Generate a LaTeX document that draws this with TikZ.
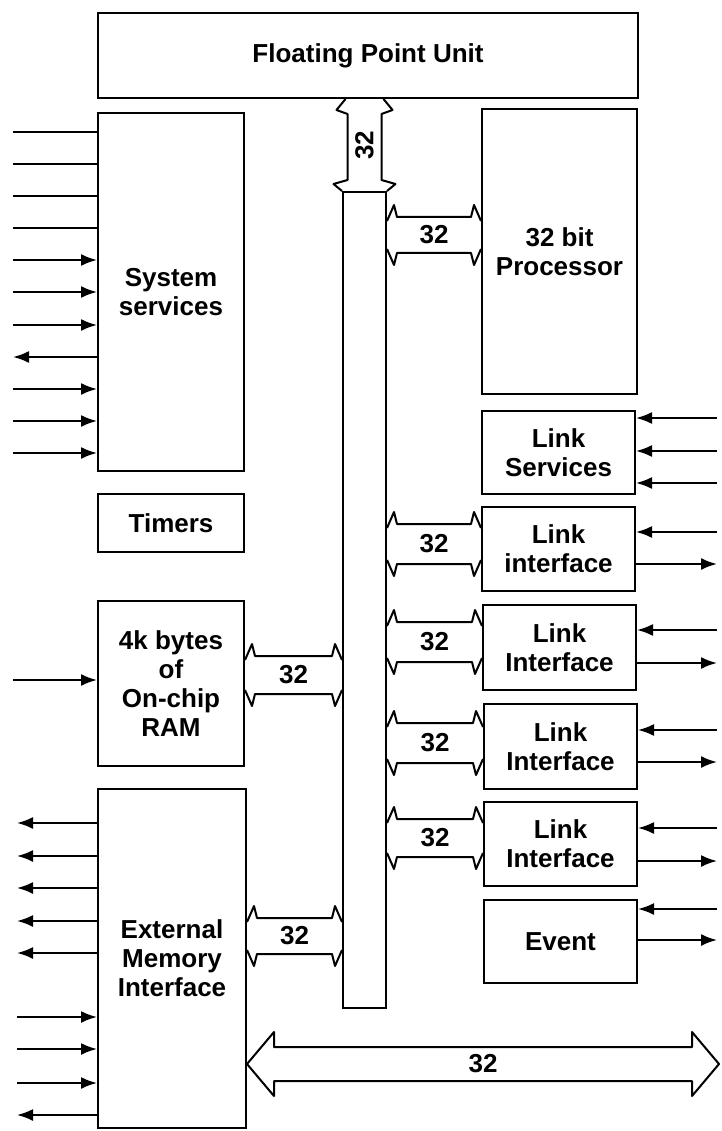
\documentclass[tikz,border=0pt]{standalone}
\usepackage{fontspec}
\setmainfont{Liberation Sans}
\usetikzlibrary{calc,arrows.meta}
\tikzset{
  box/.style={draw, line width=2pt, rectangle, inner sep=0pt, anchor=north west,
              align=center, font=\fontsize{26}{29}\selectfont\bfseries},
  busline/.style={line width=2pt, line join=round},
  sig/.style={line width=2pt},
  styn/.style={},
  styi/.style={-{Latex[length=16pt,width=12pt]}},
  styo/.style={{Latex[length=16pt,width=12pt]}-},
  lbl/.style={font=\fontsize{26}{29}\selectfont\bfseries, inner sep=0pt},
}
\newcommand\fatlink[4]{%
  \coordinate (fl-a) at (#1.east |- 0,#3);
  \coordinate (fl-b) at (#2.west |- 0,#3);
  \draw[busline] ($(fl-a)+(0,-#4+4)$) -- ($(fl-a)+(7,-#4-12)$) -- ($(fl-a)+(10,-#4)$)
     -- ($(fl-b)+(-10,-#4)$) -- ($(fl-b)+(-7,-#4-12)$) -- ($(fl-b)+(0,-#4+4)$);
  \draw[busline] ($(fl-a)+(0,#4-4)$) -- ($(fl-a)+(7,#4+12)$) -- ($(fl-a)+(10,#4)$)
     -- ($(fl-b)+(-10,#4)$) -- ($(fl-b)+(-7,#4+12)$) -- ($(fl-b)+(0,#4-4)$);
  \node[lbl] (lab-#1-#2) at ($(fl-a)!0.5!(fl-b)$) {32};
}
\begin{document}
\begin{tikzpicture}[x=1pt,y=-1pt]
\useasboundingbox (0,0) rectangle (721,1131);

% boxes
\node[box, minimum width=540pt, minimum height=85pt] (fpu) at (97,12) {Floating Point Unit};
\node[box, minimum width=146pt, minimum height=358pt] (sys) at (97,112) {System\\services};
\node[box, minimum width=146pt, minimum height=58pt] (tim) at (97,493) {Timers};
\node[box, minimum width=146pt, minimum height=165pt] (ram) at (97,600) {4k bytes\\of\\On-chip\\RAM};
\node[box, minimum width=148pt, minimum height=339pt] (emi) at (97,788) {External\\Memory\\Interface};
\node[box, minimum width=43pt, minimum height=816pt] (bus) at (342,191) {};
\node[box, minimum width=155pt, minimum height=285pt] (proc) at (481,108) {32 bit\\Processor};
\node[box, minimum width=153pt, minimum height=83pt] (lsv) at (481,410) {Link\\Services};
\node[box, minimum width=153pt, minimum height=84pt] (li1) at (481,506) {Link\\interface};
\node[box, minimum width=153pt, minimum height=85pt] (li2) at (482,604) {Link\\Interface};
\node[box, minimum width=153pt, minimum height=85pt] (li3) at (483,703) {Link\\Interface};
\node[box, minimum width=153pt, minimum height=84pt] (li4) at (483,801) {Link\\Interface};
\node[box, minimum width=153pt, minimum height=83pt] (evt) at (483,899) {Event};

% FPU to bus vertical connector
\coordinate (ft) at (bus.north |- fpu.south);
\draw[busline] (ft) ++(-19,0) -- ($(ft)+(-28,11)$) -- ($(ft)+(-17,15)$) -- ($(ft)+(-17,81)$)
   -- ($(ft)+(-31,85)$) -- (bus.north west);
\draw[busline] (ft) ++(19,0) -- ($(ft)+(28,11)$) -- ($(ft)+(17,15)$) -- ($(ft)+(17,81)$)
   -- ($(ft)+(31,85)$) -- (bus.north east);
\node[lbl, rotate=90] (labfpu) at ($(ft)+(0,46)$) {32};

% horizontal bus connectors
\fatlink{bus}{proc}{235}{18}
\fatlink{bus}{li1}{544}{20}
\fatlink{bus}{li2}{642}{20}
\fatlink{bus}{li3}{743}{20}
\fatlink{bus}{li4}{838}{19}
\fatlink{ram}{bus}{675}{19}
\fatlink{emi}{bus}{936}{18}

% external bus
\coordinate (bl) at (emi.east |- 0,1064);
\coordinate (br) at (719,1064);
\draw[busline] (bl) -- ($(bl)+(27,-32)$) -- ($(bl)+(27,-17)$) -- ($(br)+(-27,-17)$)
  -- ($(br)+(-27,-32)$) -- (br) -- ($(br)+(-27,32)$) -- ($(br)+(-27,17)$)
  -- ($(bl)+(27,17)$) -- ($(bl)+(27,32)$) -- cycle;
\node[lbl] (labext) at ($(bl)!0.5!(br)$) {32};

% system services signals
\foreach \y/\k [count=\i] in {132/n,164/n,196/n,228/n,260/i,292/i,325/i,357/o,389/i,421/i,453/i}{
  \coordinate (s\i) at (13,\y);
  \draw[sig,sty\k] (s\i) -- (sys.west |- s\i);
}
% RAM input
\coordinate (rin) at (13,680);
\draw[sig,styi] (rin) -- (ram.west |- rin);
% EMI signals
\foreach \y/\k [count=\i] in {823/o,856/o,888/o,921/o,953/o,1017/i,1049/i,1083/i,1115/o}{
  \coordinate (e\i) at (17,\y);
  \draw[sig,sty\k] (e\i) -- (emi.west |- e\i);
}
% right side signals
\foreach \n/\y/\k in {lsv/418/i,lsv/451/i,lsv/483/i,li1/532/i,li1/564/o,li2/630/i,li2/663/o,
                      li3/730/i,li3/762/o,li4/828/i,li4/861/o,evt/909/i,evt/940/o}{
  \coordinate (r-\n-\y) at (717,\y);
  \draw[sig,sty\k] (r-\n-\y) -- (\n.east |- r-\n-\y);
}
\end{tikzpicture}
\end{document}
